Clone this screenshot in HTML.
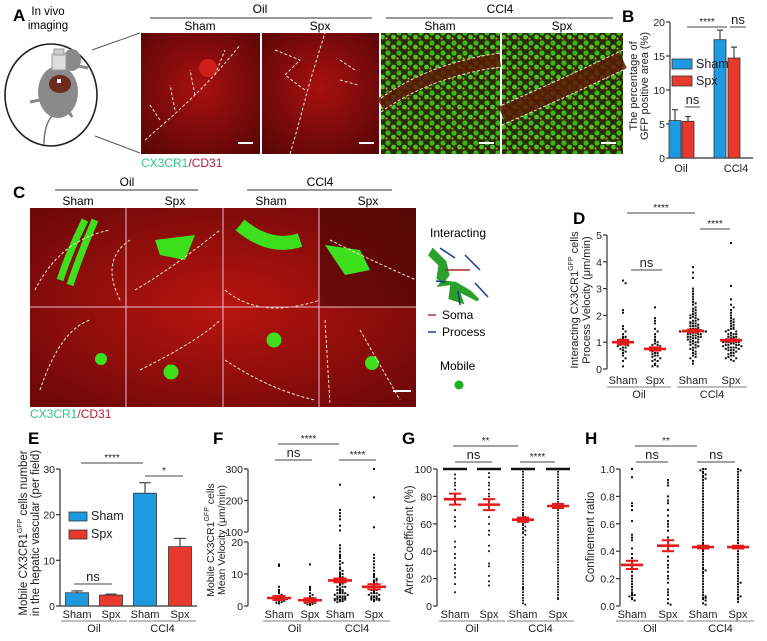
<!DOCTYPE html>
<html><head><meta charset="utf-8"><style>
html,body{margin:0;padding:0;background:#fff}
svg{display:block;font-family:"Liberation Sans",Arial,sans-serif}
</style></head><body>
<svg id="fig" width="767" height="641" viewBox="0 0 767 641" xmlns="http://www.w3.org/2000/svg">
<defs>
<radialGradient id="redA" cx="50%" cy="45%" r="70%"><stop offset="0" stop-color="#a81010"/><stop offset="1" stop-color="#5a0606"/></radialGradient>
<radialGradient id="redC" cx="50%" cy="50%" r="70%"><stop offset="0" stop-color="#b81410"/><stop offset="1" stop-color="#6a0808"/></radialGradient>
<pattern id="greenDots" width="11" height="10" patternUnits="userSpaceOnUse">
<rect width="11" height="10" fill="#2e2a06"/>
<circle cx="3" cy="3" r="2.6" fill="#36b81a"/><circle cx="8.5" cy="7" r="2.4" fill="#4cc826"/><circle cx="1.5" cy="8.5" r="1.1" fill="#b8a020"/>
</pattern>
</defs>

<!-- Panel A -->
<g>
<text x="13" y="21" font-size="17" font-weight="bold">A</text>
<text x="48" y="15" font-size="11.5" text-anchor="middle">In vivo</text>
<text x="48" y="29" font-size="11.5" text-anchor="middle">imaging</text>
<g>
<ellipse cx="51" cy="95" rx="46" ry="51" fill="#fff" stroke="#222" stroke-width="1.6"/>
<line x1="92" y1="50" x2="140" y2="33" stroke="#555"/><line x1="95" y1="136" x2="140" y2="153" stroke="#555"/>
<ellipse cx="58" cy="92" rx="20" ry="26" fill="#8a8a8a"/><ellipse cx="72" cy="60" rx="9" ry="11" fill="#8a8a8a"/>
<ellipse cx="60" cy="84" rx="11" ry="9" fill="#6b2c1e"/><rect x="57" y="79" width="4" height="4" fill="#fff"/>
<rect x="52" y="54" width="14" height="16" fill="#ddd" stroke="#999"/><rect x="54" y="49" width="10" height="6" fill="#ccc" stroke="#999"/>
<path d="M52,116 Q44,125 44,145" stroke="#777" fill="none" stroke-width="1.5"/>
<path d="M40,100 L30,102 M68,110 L72,117 M78,66 L88,68" stroke="#888" stroke-width="3"/>
</g>
<text x="260" y="13" font-size="12" text-anchor="middle">Oil</text>
<line x1="150" y1="18" x2="372" y2="18" stroke="#333"/>
<text x="500" y="13" font-size="12" text-anchor="middle">CCl4</text>
<line x1="386" y1="18" x2="613" y2="18" stroke="#333"/>
<text x="200" y="30" font-size="12" text-anchor="middle">Sham</text>
<text x="320" y="30" font-size="12" text-anchor="middle">Spx</text>
<text x="440" y="30" font-size="12" text-anchor="middle">Sham</text>
<text x="562" y="30" font-size="12" text-anchor="middle">Spx</text>
<g><rect x="141" y="33" width="119" height="121" fill="url(#redA)"/><circle cx="208" cy="68" r="9" fill="#e02020" opacity=".8"/>
<path d="M145,140 Q180,110 200,90 T240,45 M160,120 L150,105 M175,110 L170,85 M195,95 L190,70 M215,75 L225,50" stroke="#f3e0d0" stroke-dasharray="3,2" fill="none"/><line x1="238" y1="143" x2="253" y2="143" stroke="#fff" stroke-width="2"/></g>
<g><rect x="262" y="33" width="117" height="121" fill="url(#redA)"/>
<path d="M290,154 Q300,120 305,100 T325,33 M275,50 L300,60 L285,75 L305,90 M340,60 L355,70 M340,80 L358,85" stroke="#f3e0d0" stroke-dasharray="3,2" fill="none"/><line x1="359" y1="143" x2="374" y2="143" stroke="#fff" stroke-width="2"/></g>
<g><rect x="381" y="33" width="119" height="121" fill="url(#greenDots)"/>
<path d="M381,105 Q430,70 500,60" stroke="#5a1a08" stroke-width="14" fill="none" opacity=".85"/><path d="M381,98 Q430,63 500,53 M381,112 Q430,77 500,67" stroke="#f3e0d0" stroke-dasharray="3,2" fill="none"/><line x1="479" y1="143" x2="494" y2="143" stroke="#fff" stroke-width="2"/></g>
<g><rect x="502" y="33" width="121" height="121" fill="url(#greenDots)"/>
<path d="M502,115 Q560,90 623,60" stroke="#5a1a08" stroke-width="18" fill="none" opacity=".85"/><path d="M502,105 Q560,80 623,50 M502,125 Q560,100 623,70" stroke="#f3e0d0" stroke-dasharray="3,2" fill="none"/><line x1="601" y1="143" x2="616" y2="143" stroke="#fff" stroke-width="2"/></g>
<text x="141" y="167" font-size="12"><tspan fill="#2ec48a">CX3CR1</tspan><tspan fill="#b0203a">/CD31</tspan></text>
</g>

<!-- Panel C -->
<g>
<text x="13" y="198" font-size="17" font-weight="bold">C</text>
<text x="127" y="186" font-size="12" text-anchor="middle">Oil</text>
<line x1="55" y1="190" x2="198" y2="190" stroke="#333"/>
<text x="320" y="186" font-size="12" text-anchor="middle">CCl4</text>
<line x1="247" y1="190" x2="392" y2="190" stroke="#333"/>
<text x="78" y="205" font-size="12" text-anchor="middle">Sham</text>
<text x="175" y="205" font-size="12" text-anchor="middle">Spx</text>
<text x="271" y="205" font-size="12" text-anchor="middle">Sham</text>
<text x="368" y="205" font-size="12" text-anchor="middle">Spx</text>
<g>
<rect x="30" y="208" width="386" height="199" fill="url(#redC)"/>
<rect x="319" y="208" width="97" height="99" fill="#4a0606" opacity=".6"/>
<path d="M85,220 Q70,250 60,280 M95,220 Q80,255 70,285" stroke="#3ee01e" stroke-width="7" fill="none"/>
<path d="M155,240 L195,235 L185,260 L160,255Z" fill="#3ee01e"/>
<path d="M240,225 Q270,250 300,240" stroke="#3ee01e" stroke-width="14" fill="none"/>
<path d="M325,245 L360,250 L370,270 L345,275Z" fill="#3ee01e"/>
<circle cx="101" cy="359" r="6" fill="#3ee01e"/><circle cx="171" cy="372" r="7.5" fill="#3ee01e"/>
<circle cx="274" cy="340" r="7.5" fill="#3ee01e"/><circle cx="372" cy="363" r="7" fill="#3ee01e"/>
<path d="M35,290 Q60,240 110,230 M120,300 Q100,260 130,240 M135,290 Q170,270 220,230 M225,290 Q260,320 320,300 M330,240 Q370,260 416,280 M40,390 Q60,330 90,320 M140,370 Q200,340 220,320 M225,360 Q270,390 315,400 M325,320 L330,405 M360,330 L400,400" stroke="#f3e0d0" stroke-dasharray="3,2" fill="none"/>
<line x1="126" y1="208" x2="126" y2="407" stroke="#e8c0c0"/><line x1="223" y1="208" x2="223" y2="407" stroke="#e8c0c0"/><line x1="319" y1="208" x2="319" y2="407" stroke="#e8c0c0"/><line x1="30" y1="307" x2="416" y2="307" stroke="#e8c0c0"/>
<line x1="393" y1="391" x2="411" y2="391" stroke="#fff" stroke-width="2"/>
</g>
<text x="430" y="237" font-size="12">Interacting</text>
<g>
<path d="M433,250 L445,262 L448,275 L440,285 L455,283 L470,292 L478,300 L470,296 L458,290 L462,302 L450,298 L452,283 L445,282 L438,278 L440,265 L430,255Z" fill="#2aa02a" stroke="#2aa02a" stroke-width="3"/>
<line x1="445" y1="270" x2="470" y2="270" stroke="#a52a2a" stroke-width="1.5"/>
<path d="M440,248 L455,258 M465,255 L480,270 M475,283 L488,297 M436,281 L446,282 M458,291 L460,305" stroke="#1a3a8a" stroke-width="1.5"/>
</g>
<line x1="428" y1="315" x2="436" y2="315" stroke="#c03030" stroke-width="1.5"/><text x="442" y="319" font-size="12">Soma</text>
<line x1="428" y1="332" x2="436" y2="332" stroke="#1a3a8a" stroke-width="1.5"/><text x="442" y="336" font-size="12">Process</text>
<text x="440" y="370" font-size="12">Mobile</text>
<circle cx="459" cy="385" r="4.5" fill="#1db01d"/>
<text x="30" y="418" font-size="12"><tspan fill="#2ec48a">CX3CR1</tspan><tspan fill="#b0203a">/CD31</tspan></text>
</g>

<g id="charts"></g>
</svg>
<script>
// ---------- data ----------
const groupLabels = ['Sham','Spx','Sham','Spx'];
const treatmentLabels = ['Oil','CCl4'];
const legendLabels = ['Sham','Spx'];
// Panel B
const bMeans = [5.5, 5.4, 17.4, 14.7];
const bErrs = [1.6, 0.7, 1.4, 1.6];
const bTicks = [0,5,10,15,20];
// Panel E
const eMeans = [2.9, 2.4, 24.7, 13.0];
const eErrs = [0.4, 0.2, 2.3, 1.8];
const eTicks = [0,10,20,30];
// Panel D
const dTicks = [0,1,2,3,4,5];
const dMeans = [1.0, 0.75, 1.42, 1.07];
const dSems = [0.08, 0.06, 0.05, 0.04];
const dOilSham = [3.3,3.2,2.2,2.1,1.6,1.5,1.4,1.3,1.2,1.2,1.15,1.1,1.1,1.05,1.0,1.0,1.0,0.95,0.9,0.9,0.88,0.85,0.8,0.8,0.75,0.7,0.65,0.6,0.5,0.4,0.3,0.1];
const dOilSpx = [2.3,1.9,1.8,1.7,1.5,1.4,1.3,1.2,1.1,1.05,1.0,0.95,0.9,0.9,0.85,0.8,0.8,0.78,0.75,0.7,0.7,0.65,0.6,0.6,0.55,0.5,0.5,0.45,0.4,0.35,0.3,0.3,0.2,0.15,0.1,0.1];
const dCclSham = [3.8,3.6,3.4,3.0,2.9,2.8,2.7,2.6,2.5,2.45,2.4,2.3,2.25,2.2,2.15,2.1,2.05,2.0,2.0,1.95,1.9,1.9,1.85,1.8,1.8,1.75,1.7,1.7,1.7,1.65,1.6,1.6,1.6,1.55,1.5,1.5,1.5,1.5,1.45,1.45,1.4,1.4,1.4,1.4,1.4,1.35,1.35,1.3,1.3,1.3,1.3,1.25,1.25,1.2,1.2,1.2,1.2,1.15,1.15,1.1,1.1,1.1,1.05,1.0,1.0,1.0,0.95,0.9,0.9,0.85,0.8,0.8,0.75,0.7,0.65,0.6,0.55,0.5,0.45,0.4,0.3,0.2];
const dCclSpx = [4.7,3.1,2.6,2.4,2.3,2.2,2.1,2.0,1.9,1.85,1.8,1.75,1.7,1.65,1.6,1.55,1.5,1.5,1.45,1.4,1.4,1.35,1.3,1.3,1.3,1.25,1.2,1.2,1.2,1.15,1.15,1.1,1.1,1.1,1.1,1.05,1.05,1.0,1.0,1.0,1.0,1.0,0.95,0.95,0.9,0.9,0.9,0.9,0.85,0.85,0.8,0.8,0.8,0.8,0.75,0.75,0.7,0.7,0.7,0.65,0.6,0.6,0.55,0.5,0.5,0.45,0.4,0.4,0.35,0.3];
// Panel F
const fLowTicks = [0,10,20];
const fHighTicks = [100,200,300];
const fMeans = [2.5, 1.8, 8.0, 6.0];
const fSems = [0.6, 0.6, 0.6, 0.8];
const fOilSham = [13,12.5,6,5,4.5,4,3.5,3,3,2.8,2.6,2.5,2.5,2.3,2.2,2,2,1.8,1.6,1.5,1.2,1,0.8];
const fOilSpx = [13,6,5.5,5,4,3.5,3,2.8,2.5,2.2,2,2,1.8,1.5,1.3,1.2,1,1,0.8,0.6,0.5,0.3];
const fCclSham = [250,170,160,150,140,120,105,19,18,17,16,15.5,15,14,13.5,13,12,11.5,11,10.5,10,10,9.5,9,9,8.5,8,8,7.5,7,7,6.5,6,6,6,5.5,5,5,5,4.5,4.5,4,4,4,4,3.5,3.5,3,3,3,3,2.8,2.5,2.5,2.5,2.2,2,2,2,2,1.8,1.5,1.5,1.2];
const fCclSpx = [300,210,115,16,15,14,13,12,11,10,9.5,9,8.5,8,8,7.5,7,7,6.5,6,6,5.5,5,5,5,4.5,4,4,4,3.5,3.5,3,3,3,2.8,2.5,2.5,2.2,2,2,2,1.8,1.5];
// Panel G
const gTicks = [0,20,40,60,80,100];
const gMeans = [78, 74, 63, 73];
const gSems = [4, 4, 1.5, 1.5];
const gOilSham = [100,100,100,100,100,100,100,96,93,90,88,85,82,80,75,70,65,62,58,47,43,38,35,30,27,24,21,16,10];
const gOilSpx = [100,100,100,100,100,100,97,94,90,88,85,82,80,75,70,65,60,55,52,44,40,31,29,22,18,15];
const gCclSham = [100,100,100,100,100,100,100,100,100,98,96,94,92,90,88,86,84,82,80,78,76,74,72,70,68,67,66,65,64,63,62,61,60,59,58,57,56,55,54,53,52,50,48,46,44,42,40,38,36,34,32,30,28,26,24,22,20,18,16,14,13,12,10,8,6,4,2,1];
const gCclSpx = [100,100,100,100,100,100,100,100,98,96,94,92,90,88,86,84,82,80,78,76,74,73,72,70,68,66,64,62,60,58,56,54,52,50,48,46,44,42,40,38,36,34,32,30,28,26,24,22,20,18,16,14,12,10,8,6,5];
// Panel H
const hTicks = [0,0.2,0.4,0.6,0.8,1.0];
const hMeans = [0.30, 0.44, 0.43, 0.43];
const hSems = [0.03, 0.04, 0.01, 0.01];
const hOilSham = [1.0,0.94,0.75,0.73,0.7,0.62,0.52,0.5,0.48,0.42,0.38,0.35,0.33,0.3,0.28,0.27,0.25,0.22,0.2,0.18,0.16,0.14,0.12,0.1,0.09,0.08,0.08,0.07,0.06,0.05,0.04];
const hOilSpx = [0.92,0.9,0.88,0.8,0.77,0.75,0.7,0.66,0.62,0.6,0.58,0.55,0.5,0.48,0.45,0.42,0.4,0.36,0.33,0.3,0.28,0.25,0.22,0.2,0.17,0.12,0.1,0.08,0.05,0.02,0.01];
const hCclSham = [1.0,1.0,0.99,0.98,0.97,0.96,0.95,0.94,0.93,0.92,0.9,0.88,0.86,0.84,0.82,0.8,0.78,0.76,0.74,0.72,0.7,0.68,0.66,0.64,0.62,0.6,0.58,0.56,0.54,0.52,0.5,0.48,0.46,0.45,0.44,0.43,0.42,0.41,0.4,0.38,0.36,0.34,0.32,0.3,0.28,0.27,0.26,0.25,0.24,0.22,0.2,0.18,0.16,0.14,0.12,0.1,0.08,0.07,0.06,0.06,0.05,0.04,0.02,0.01];
const hCclSpx = [1.0,0.99,0.98,0.96,0.94,0.92,0.9,0.88,0.86,0.84,0.82,0.8,0.78,0.76,0.74,0.72,0.7,0.68,0.66,0.64,0.62,0.6,0.58,0.56,0.54,0.52,0.5,0.48,0.46,0.44,0.43,0.42,0.4,0.38,0.36,0.34,0.32,0.3,0.28,0.26,0.24,0.22,0.2,0.18,0.17,0.16,0.14,0.12,0.1,0.08,0.07,0.06,0.05,0.03];

// ---------- helpers ----------
const NS = 'http://www.w3.org/2000/svg';
const root = document.getElementById('charts');
function mk(tag, attrs, parent) {
  const el = document.createElementNS(NS, tag);
  for (const k in attrs) el.setAttribute(k, attrs[k]);
  (parent || root).appendChild(el);
  return el;
}
function txt(x, y, s, size, anchor, parent, extra) {
  const a = {x: x, y: y, 'font-size': size, 'text-anchor': anchor || 'middle', fill: '#222'};
  if (extra) for (const k in extra) a[k] = extra[k];
  const t = mk('text', a, parent);
  t.textContent = s;
  return t;
}
function lin(x1, y1, x2, y2, parent, w, col) {
  return mk('line', {x1: x1, y1: y1, x2: x2, y2: y2, stroke: col || '#333', 'stroke-width': w || 1}, parent);
}
function panelLabel(letter, x, y) {
  const t = txt(x, y, letter, 17, 'start', root, {'font-weight': 'bold', fill: '#000'});
  
  
}
function yTitle(lines, x, cy, g, size, gap) {
  lines.forEach(function (ln, i) {
    const t = mk('text', {x: 0, y: 0, 'font-size': size || 11.5, 'text-anchor': 'middle', fill: '#222', transform: 'translate(' + (x + i * (gap || 13)) + ',' + cy + ') rotate(-90)'}, g);
    t.innerHTML = ln;
    
    
  });
}
function sig(x1, x2, y, label, g) {
  const l = lin(x1, y, x2, y, g, 1, '#444');
  
  
  const isNs = label === 'ns';
  const t = txt((x1 + x2) / 2, isNs ? y - 3 : y - 2, label, isNs ? 13 : 10, 'middle', g);
  
  
}
function groupAxis(xs, y, g) {
  groupLabels.forEach(function (s, i) {
    const t = txt(xs[i], y, s, 11, 'middle', g);
    
    
  });
  lin(xs[0] - 16, y + 3, xs[1] + 16, y + 3, g, 0.8, '#555');
  lin(xs[2] - 16, y + 3, xs[3] + 16, y + 3, g, 0.8, '#555');
  treatmentLabels.forEach(function (s, i) {
    const t = txt((xs[2 * i] + xs[2 * i + 1]) / 2, y + 14, s, 11, 'middle', g);
    
    
  });
}
function yAxis(ax, ticks, fy, top, bottom, fmt, g) {
  const a = lin(ax, top, ax, bottom, g, 1.2, '#333');
  
  
  ticks.forEach(function (v) {
    lin(ax - 4, fy(v), ax, fy(v), g, 1.2, '#333');
    const t = txt(ax - 5, fy(v) + 4, fmt ? fmt(v) : String(v), 10.5, 'end', g);
    
    
  });
}
function swarm(vals, cx, fy, maxHalf, g, r, bin) {
  const counts = {};
  vals.forEach(function (v) {
    const py = fy(v);
    const key = Math.round(py / bin);
    const k = counts[key] || 0;
    counts[key] = k + 1;
    let off = (k % 2 ? 1 : -1) * Math.ceil(k / 2) * (r * 1.3);
    if (Math.abs(off) > maxHalf) off = ((k * 7) % (2 * maxHalf)) - maxHalf;
    const d = mk('rect', {x: cx + off - r / 2, y: py - r / 2, width: r, height: r, fill: '#111'}, g);
    
    
  });
}
function meanBar(cx, m, s, fy, g, hw) {
  const e = mk('g', {}, g);
  
  
  lin(cx - hw, fy(m), cx + hw, fy(m), e, 2.6, '#e41a1a');
  lin(cx, fy(m + s), cx, fy(m - s), e, 2, '#e41a1a');
  lin(cx - hw * 0.55, fy(m + s), cx + hw * 0.55, fy(m + s), e, 2, '#e41a1a');
  lin(cx - hw * 0.55, fy(m - s), cx + hw * 0.55, fy(m - s), e, 2, '#e41a1a');
}
const BLUE = '#1e9be0', RED = '#e8392d';
function bars(means, errs, xs, bw, fy, g) {
  means.forEach(function (m, i) {
    const col = i % 2 ? RED : BLUE;
    lin(xs[i], fy(m), xs[i], fy(m + errs[i]), g, 1.2, '#444');
    lin(xs[i] - bw * 0.25, fy(m + errs[i]), xs[i] + bw * 0.25, fy(m + errs[i]), g, 1.2, '#444');
    const b = mk('rect', {x: xs[i] - bw / 2, y: fy(m), width: bw, height: fy(0) - fy(m), fill: col, stroke: '#333', 'stroke-width': 0.8}, g);
    
    
  });
}
function legend(x, y, gap, w, h, g) {
  legendLabels.forEach(function (s, i) {
    const it = mk('g', {}, g);
    
    
    mk('rect', {x: x, y: y + i * gap, width: w, height: h, fill: i ? RED : BLUE, stroke: '#333', 'stroke-width': 0.8}, it);
    txt(x + w + 4, y + i * gap + h - 1, s, 12.5, 'start', it);
  });
}

// ---------- Panel B ----------
(function () {
  const g = mk('g', {});
  
  
  panelLabel('B', 622, 22);
  const fy = function (v) { return 158 - v / 20 * 136; };
  yAxis(670, bTicks, fy, 22, 158, null, g);
  lin(670, 158, 753, 158, g, 1.2, '#333');
  bars(bMeans, bErrs, [675, 688, 720, 734], 12, fy, g);
  legend(672, 59, 17, 20, 10, g);
  txt(681, 172, 'Oil', 11, 'middle', g);
  txt(736, 172, 'CCl4', 11, 'middle', g);
  yTitle(['The percentage of', 'GFP positive area (%)'], 637, 86, g, 11, 11);
  sig(687, 727, 27, '****', g);
  sig(730, 746, 27, 'ns', g);
  sig(685, 700, 107, 'ns', g);
})();

// ---------- Panel D ----------
(function () {
  const g = mk('g', {});
  
  
  panelLabel('D', 573, 224);
  const fy = function (v) { return 369 - v / 5 * 134; };
  yAxis(607, dTicks, fy, 235, 369, null, g);
  const xs = [623, 655, 693, 731];
  [dOilSham, dOilSpx, dCclSham, dCclSpx].forEach(function (arr, i) {
    swarm(arr, xs[i], fy, i > 1 ? 13 : 8, g, 2, 3);
  });
  dMeans.forEach(function (m, i) { meanBar(xs[i], m, dSems[i], fy, g, 11); });
  groupAxis(xs, 384, g);
  yTitle(['Interacting CX3CR1<tspan font-size="7" dy="-5">GFP</tspan><tspan dy="5"> cells</tspan>', 'Process Velocity (μm/min)'], 578, 300, g, 11, 12);
  sig(627, 695, 213, '****', g);
  sig(700, 730, 229, '****', g);
  sig(631, 662, 270, 'ns', g);
})();

// ---------- Panel E ----------
(function () {
  const g = mk('g', {});
  
  
  panelLabel('E', 28, 444);
  const fy = function (v) { return 606 - v / 30 * 137; };
  yAxis(60, eTicks, fy, 469, 606, null, g);
  lin(60, 606, 197, 606, g, 1.2, '#333');
  const xs = [77, 111, 145, 180];
  bars(eMeans, eErrs, xs, 23, fy, g);
  legend(69, 512, 18, 18, 9, g);
  groupAxis(xs, 618, g);
  yTitle(['Mobile CX3CR1<tspan font-size="7" dy="-5">GFP</tspan><tspan dy="5"> cells number</tspan>', 'in the hepatic vascular (per field)'], 27, 533, g, 11.5, 12);
  sig(81, 143, 463, '****', g);
  sig(145, 183, 476, '*', g);
  sig(74, 112, 584, 'ns', g);
})();

// ---------- Panel F ----------
(function () {
  const g = mk('g', {});
  
  
  panelLabel('F', 213, 444);
  const fy = function (v) { return v <= 20 ? 606 - v / 20 * 64 : 532 - (v - 100) / 200 * 63; };
  yAxis(248, fLowTicks, fy, 542, 606, null, g);
  yAxis(248, fHighTicks, fy, 469, 532, null, g);
  const xs = [279, 310, 340, 374];
  [fOilSham, fOilSpx, fCclSham, fCclSpx].forEach(function (arr, i) {
    swarm(arr, xs[i], fy, i > 1 ? 14 : 10, g, 2, 2);
  });
  fMeans.forEach(function (m, i) { meanBar(xs[i], m, fSems[i], fy, g, 12); });
  groupAxis(xs, 618, g);
  yTitle(['Mobile CX3CR1<tspan font-size="7" dy="-5">GFP</tspan><tspan dy="5"> cells</tspan>', 'Mean Velocity (μm/min)'], 214, 540, g, 10.5, 11);
  sig(278, 339, 444, '****', g);
  sig(275, 312, 460, 'ns', g);
  sig(339, 376, 460, '****', g);
})();

// ---------- Panel G ----------
(function () {
  const g = mk('g', {});
  
  
  panelLabel('G', 402, 444);
  const fy = function (v) { return 606 - v / 100 * 137; };
  yAxis(437, gTicks, fy, 469, 606, null, g);
  const xs = [455, 489, 523, 558];
  xs.forEach(function (x) { lin(x - 12, fy(100), x + 12, fy(100), g, 2.5, '#111'); });
  [gOilSham, gOilSpx, gCclSham, gCclSpx].forEach(function (arr, i) {
    swarm(arr, xs[i], fy, i > 1 ? 5 : 3, g, 1.8, 2);
  });
  gMeans.forEach(function (m, i) { meanBar(xs[i], m, gSems[i], fy, g, 11); });
  groupAxis(xs, 618, g);
  yTitle(['Arrest Coefficient (%)'], 413, 540, g, 11.5);
  sig(453, 518, 446, '**', g);
  sig(455, 492, 462, 'ns', g);
  sig(520, 555, 462, '****', g);
})();

// ---------- Panel H ----------
(function () {
  const g = mk('g', {});
  
  
  panelLabel('H', 585, 444);
  const fy = function (v) { return 606 - v * 137; };
  yAxis(620, hTicks, fy, 469, 606, function (v) { return v.toFixed(1); }, g);
  const xs = [632, 668, 703, 738];
  [hOilSham, hOilSpx, hCclSham, hCclSpx].forEach(function (arr, i) {
    swarm(arr, xs[i], fy, i > 1 ? 10 : 7, g, 2, 2);
  });
  hMeans.forEach(function (m, i) { meanBar(xs[i], m, hSems[i], fy, g, 11); });
  groupAxis(xs, 618, g);
  yTitle(['Confinement ratio'], 594, 537, g, 11.5);
  sig(635, 697, 446, '**', g);
  sig(636, 668, 462, 'ns', g);
  sig(697, 735, 462, 'ns', g);
})();
</script>
</body></html>
